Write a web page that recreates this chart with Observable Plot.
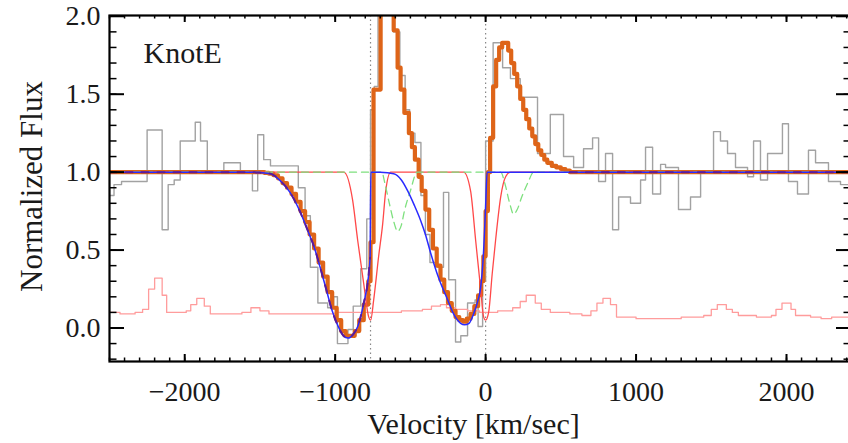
<!DOCTYPE html>
<html><head><meta charset="utf-8">
<script src="https://cdn.jsdelivr.net/npm/d3@7"></script>
<script src="https://cdn.jsdelivr.net/npm/@observablehq/plot@0.6"></script>
<style>
html,body{margin:0;padding:0;background:#fff;overflow:hidden;width:848px;height:443px;}
#chart{width:851px;}
#chart svg, #chart svg text {font-family: "Liberation Serif", "Times New Roman", serif !important;}
</style></head><body><div id="chart"></div>
<script>
// ---- data (velocity km/s, normalized flux) ----
const label = "KnotE";
const xTicks = [-2000, -1000, 0, 1000, 2000];
const yTicks = [0.0, 0.5, 1.0, 1.5, 2.0];
const markerLines = [-765, 0];

// observed spectrum (step starts)
const obsV = [-2500,-2470,-2420,-2250,-2150,-2110,-2070,-2030,-1930,-1895,-1850,-1740,-1630,-1550,-1515,-1475,-1430,-1385,-1245,-1200,-1165,-1115,-1050,-1010,-985,-915,-880,-830,-790,-765,-740,-715,-615,-570,-535,-505,-470,-430,-400,-370,-320,-280,-245,-200,-165,-120,-70,-50,-20,0,50,113,165,230,345,430,518,585,651,711,751,797,844,884,963,1030,1063,1110,1163,1196,1282,1362,1429,1515,1561,1608,1661,1741,1781,1827,1874,1973,2013,2073,2146,2193,2279,2359,2432];
const obsF = [0.85,0.92,0.94,1.27,0.63,0.92,0.95,1.20,1.32,1.20,1.00,1.06,1.01,0.88,1.24,1.08,1.04,1.04,0.90,0.72,0.39,0.16,0.13,0.20,-0.10,-0.01,0.14,0.38,0.70,1.40,1.55,2.30,1.90,1.62,1.40,1.25,1.19,0.85,0.60,0.42,0.39,0.87,0.31,-0.09,-0.05,0.16,0.18,0.01,0.30,1.20,1.83,1.67,1.60,1.48,1.12,1.37,1.10,1.03,1.15,1.22,0.94,1.12,0.63,0.84,0.80,0.95,1.16,0.86,1.05,1.03,0.76,0.84,1.01,1.26,1.20,1.12,1.03,0.97,1.20,0.95,1.12,1.31,0.94,0.86,1.14,1.06,0.94,0.92,0.92];

// error spectrum (step starts)
const errV = [-2500,-2430,-2330,-2280,-2240,-2200,-2150,-2120,-1990,-1960,-1920,-1870,-1830,-1620,-1560,-1500,-1440,-1000,-700,-560,-420,-360,-300,-260,-200,-120,-40,80,180,230,270,330,370,430,560,640,700,740,780,830,870,1000,1300,1450,1500,1540,1600,1640,1680,1800,1900,1930,1970,2030,2060,2160,2230,2300,2432];
const errF = [0.10,0.09,0.10,0.12,0.25,0.32,0.21,0.10,0.11,0.15,0.19,0.14,0.09,0.10,0.13,0.11,0.09,0.10,0.10,0.11,0.12,0.14,0.15,0.13,0.12,0.11,0.10,0.11,0.13,0.17,0.21,0.16,0.12,0.10,0.09,0.08,0.11,0.16,0.19,0.15,0.07,0.06,0.07,0.08,0.12,0.15,0.12,0.10,0.08,0.07,0.08,0.12,0.16,0.12,0.08,0.07,0.06,0.07,0.07];

// full model (step starts)
const fitV = [-2500,-1560,-1470,-1440,-1410,-1380,-1350,-1320,-1290,-1260,-1230,-1200,-1170,-1140,-1110,-1080,-1050,-1020,-990,-960,-930,-900,-870,-840,-810,-780,-765,-745,-698,-660,-635,-611,-585,-565,-540,-510,-490,-470,-445,-425,-400,-375,-350,-325,-300,-275,-250,-225,-200,-175,-150,-125,-100,-75,-50,-30,-15,0,15,30,50,70,90,110,130,150,170,190,210,230,250,270,290,310,330,350,370,390,410,440,470,500,530,560,2432];
const fitF = [1.0,1.0,0.995,0.99,0.98,0.96,0.93,0.90,0.86,0.81,0.75,0.68,0.60,0.51,0.42,0.33,0.23,0.13,0.05,-0.02,-0.05,-0.05,-0.02,0.05,0.15,0.30,0.55,1.53,2.5,2.5,2.2,1.91,1.67,1.53,1.38,1.25,1.16,1.08,0.97,0.88,0.76,0.63,0.51,0.40,0.31,0.23,0.16,0.11,0.07,0.05,0.04,0.06,0.09,0.14,0.21,0.30,0.46,0.75,1.0,1.22,1.55,1.72,1.80,1.83,1.83,1.78,1.70,1.63,1.55,1.47,1.40,1.34,1.28,1.23,1.18,1.14,1.11,1.08,1.06,1.04,1.03,1.02,1.01,1.0,1.0];

// absorption model (smooth)
const absV = [-2500,-1560,-1500,-1430,-1360,-1300,-1240,-1180,-1140,-1100,-1060,-1020,-980,-945,-915,-880,-850,-810,-780,-768,-763,-700,-611,-560,-518,-475,-432,-400,-365,-312,-252,-213,-166,-140,-110,-80,-50,-33,-13,0,10,2432];
const absF = [1,1,0.997,0.99,0.94,0.87,0.76,0.62,0.52,0.39,0.25,0.11,0.01,-0.05,-0.065,-0.04,0.01,0.16,0.32,0.45,1.0,0.999,0.99,0.95,0.88,0.79,0.69,0.60,0.48,0.32,0.18,0.09,0.03,0.02,0.03,0.09,0.18,0.26,0.50,0.78,1.0,1.0];

// first absorber alone (dashed), NaN breaks the line
const comp1V = [-2500,-1560,-1500,-1430,-1360,-1300,-1240,-1180,-1140,-1100,-1060,-1020,-980,-945,-915,-880,-850,-810,-780,-768,-767,560,2432];
const comp1F = [1,1,0.997,0.99,0.94,0.87,0.76,0.62,0.52,0.39,0.25,0.11,0.01,-0.05,-0.065,-0.04,0.01,0.16,0.32,0.45,NaN,1,1];

// narrow absorbers (smooth)
const narrowV = [-2500,-943,-884,-850,-811,-777,-764,-744,-711,-684,-664,-631,-146,-100,-66,-33,-13,0,20,44,66,100,133,166,2432];
const narrowF = [1,1,0.82,0.56,0.29,0.07,0.05,0.18,0.46,0.67,0.88,1,1,0.88,0.56,0.25,0.07,0.05,0.10,0.35,0.56,0.84,0.97,1,1];

// shifted absorbers (dashed)
const shiftV = [-2500,-690,-670,-640,-610,-585,-560,-540,-500,-455,100,130,160,186,210,240,280,320,2432];
const shiftF = [1,1,0.93,0.80,0.68,0.62,0.66,0.75,0.88,1,1,0.92,0.80,0.73,0.76,0.84,0.93,1,1];

const toRows = (v, f) => v.map((x, i) => ({v: x, f: f[i]}));
const obs = toRows(obsV, obsF), err = toRows(errV, errF), fit = toRows(fitV, fitF);
const abs = toRows(absV, absF), comp1 = toRows(comp1V, comp1F);
const narrow = toRows(narrowV, narrowF), shift = toRows(shiftV, shiftF);

const W = 851, H = 443, mL = 109, mT = 15, mR = 0, mB = 82;
const plotW = W - mL - mR, plotH = H - mT - mB;
const xMinor = d3.range(-2500, 2432, 100);
const yMinor = d3.range(-2, 21).map(d => d / 10);
const FONT = "Liberation Serif, serif";

const chart = Plot.plot({
  width: W, height: H,
  marginLeft: mL, marginTop: mT, marginRight: mR, marginBottom: mB,
  style: {fontFamily: FONT, color: "#1a1a1a", background: "white"},
  x: {domain: [-2500, 2432]},
  y: {domain: [-0.215, 2.005]},
  marks: [
    Plot.ruleX(markerLines, {stroke: "#888", strokeWidth: 1.2, strokeDasharray: "1.5,3"}),
    Plot.line(obs, {x: "v", y: "f", curve: "step-after", stroke: "#a2a2a2", strokeWidth: 1.4, clip: true}),
    Plot.line(err, {x: "v", y: "f", curve: "step-after", stroke: "#ff9c9c", strokeWidth: 1.3, clip: true}),
    Plot.line(fit, {x: "v", y: "f", curve: "step-after", stroke: "#de6418", strokeWidth: 4.2, clip: true}),
    Plot.line(narrow, {x: "v", y: "f", curve: "monotone-x", stroke: "#ff4848", strokeWidth: 1.3, clip: true}),
    Plot.line(shift, {x: "v", y: "f", curve: "monotone-x", stroke: "#7ee07e", strokeWidth: 1.3, strokeDasharray: "7,5", clip: true}),
    Plot.line(abs, {x: "v", y: "f", curve: "monotone-x", stroke: "#2a2aff", strokeWidth: 1.5, clip: true}),
    Plot.line(comp1, {x: "v", y: "f", curve: "monotone-x", stroke: "#5a1c9c", strokeWidth: 2, strokeDasharray: "7,9", clip: true}),
    // inward ticks
    Plot.ruleX(xMinor, {insetTop: plotH - 3.5, stroke: "black", strokeWidth: 1.5}),
    Plot.ruleX(xTicks, {insetTop: plotH - 7, stroke: "black", strokeWidth: 2}),
    Plot.ruleX(xMinor, {insetBottom: plotH - 3.5, stroke: "black", strokeWidth: 1.5}),
    Plot.ruleX(xTicks, {insetBottom: plotH - 7, stroke: "black", strokeWidth: 2}),
    Plot.ruleY(yMinor, {insetRight: plotW - 7.5, stroke: "black", strokeWidth: 1.5}),
    Plot.ruleY(yTicks, {insetRight: plotW - 15, stroke: "black", strokeWidth: 2}),
    Plot.ruleY(yMinor, {insetLeft: plotW - 7.5, stroke: "black", strokeWidth: 1.5}),
    Plot.ruleY(yTicks, {insetLeft: plotW - 15, stroke: "black", strokeWidth: 2}),
    Plot.frame({stroke: "black", strokeWidth: 2.2}),
    Plot.axisX({ticks: xTicks, tickSize: 0, tickPadding: 20, tickFormat: d3.format("d"), fontSize: 28, fontFamily: FONT, label: null}),
    Plot.axisY({ticks: yTicks, tickSize: 0, tickPadding: 9, tickFormat: d3.format(".1f"), fontSize: 28, fontFamily: FONT, label: null}),
    Plot.text(["Velocity [km/sec]"], {frameAnchor: "bottom", textAnchor: "middle", lineAnchor: "middle", dx: -7, dy: 63, fontSize: 30, fontFamily: FONT, fill: "#1a1a1a"}),
    Plot.text(["Normalized Flux"], {frameAnchor: "left", textAnchor: "middle", lineAnchor: "middle", dx: -77, dy: -2, rotate: -90, fontSize: 31, fontFamily: FONT, fill: "#1a1a1a"}),
    Plot.text([label], {frameAnchor: "top-left", textAnchor: "start", lineAnchor: "top", dx: 34, dy: 26, fontSize: 30, fontFamily: FONT, fill: "#1a1a1a"})
  ]
});
document.getElementById("chart").appendChild(chart);
</script></body></html>
